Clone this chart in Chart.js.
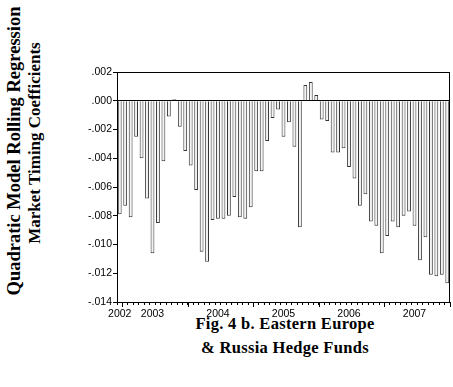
<!DOCTYPE html>
<html>
<head>
<meta charset="utf-8">
<script src="https://cdn.jsdelivr.net/npm/chart.js@4"></script>
<style>
  body { margin: 0; background: #fff; width: 453px; height: 387px; overflow: hidden; position: relative; }
  .ytitle {
    position: absolute; width: 320px; text-align: center; white-space: nowrap;
    font-family: "Liberation Serif", serif; font-weight: bold; color: #000; line-height: 20px;
    transform: rotate(-90deg);
  }
  #cap {
    position: absolute; left: 160px; width: 250px; top: 312px; text-align: center;
    font: bold 16.5px "Liberation Serif", serif; letter-spacing: 0.3px; line-height: 24px; color: #000;
  }
  #wrap { position: absolute; left: 60px; top: 60px; }
</style>
</head>
<body>
<div class="ytitle" style="left:-146px; top:141px; font-size:18.5px;">Quadratic Model Rolling Regression</div>
<div class="ytitle" style="left:-125px; top:133px; font-size:17px;">Market Timing Coefficients</div>
<div id="cap">Fig. 4 b. Eastern Europe<br>&amp; Russia Hedge Funds</div>
<div id="wrap"><canvas id="c" width="393" height="262"></canvas></div>
<script>
// monthly observations, Dec 2002 .. Dec 2007
const months = [];
for (let y = 2002, m = 12; months.length < 61; m++) {
  if (m > 12) { m = 1; y++; }
  months.push(y + '-' + String(m).padStart(2, '0'));
}

const coefs = [
  -0.0079, -0.0073, -0.0081, -0.0025, -0.0040, -0.0068, -0.0106, -0.0085, -0.0042, -0.0011,
   0.0001, -0.0018, -0.0035, -0.0045, -0.0062, -0.0105, -0.0112, -0.0083, -0.0082, -0.0082,
  -0.0080, -0.0067, -0.0081, -0.0082, -0.0074, -0.0049, -0.0049, -0.0028, -0.0012, -0.0006,
  -0.0025, -0.0015, -0.0032, -0.0088,  0.0011,  0.0013,  0.0004, -0.0013, -0.0014, -0.0036,
  -0.0036, -0.0033, -0.0046, -0.0054, -0.0073, -0.0065, -0.0084, -0.0087, -0.0106, -0.0094,
  -0.0084, -0.0088, -0.0080, -0.0077, -0.0087, -0.0111, -0.0095, -0.0121, -0.0122, -0.0121,
  -0.0127
];

const yearLabels = ['2002', '2003', '2004', '2005', '2006', '2007'];
const yearLabelIdx = [0, 6, 18, 30, 42, 54];
const yearStartIdx = [1, 13, 25, 37, 49, 61];

function fmt(v) {
  const r = Math.round(v * 1000) / 1000;
  if (Math.abs(r) < 1e-9) return '.000';
  return (r < 0 ? '-' : '') + Math.abs(r).toFixed(3).replace(/^0/, '');
}

// frame on top/right plus longer year ticks
const frame = {
  id: 'frame',
  afterDraw(chart) {
    const { ctx, chartArea: a, scales: { x } } = chart;
    const half = (x.getPixelForValue(1) - x.getPixelForValue(0)) / 2;
    ctx.save();
    ctx.strokeStyle = '#000';
    ctx.lineWidth = 1;
    ctx.beginPath();
    ctx.moveTo(a.left, Math.round(a.top) + 0.5);
    ctx.lineTo(a.right, Math.round(a.top) + 0.5);
    ctx.moveTo(Math.round(a.right) - 0.5, a.top);
    ctx.lineTo(Math.round(a.right) - 0.5, a.bottom);
    yearStartIdx.forEach(i => {
      const px = Math.round(x.getPixelForValue(i) - half) + 0.5;
      ctx.moveTo(px, a.bottom);
      ctx.lineTo(px, a.bottom + 5);
    });
    ctx.stroke();
    ctx.restore();
  }
};

const tickFont = { family: '"Liberation Sans", Arial, sans-serif', size: 10.5 };

new Chart(document.getElementById('c'), {
  type: 'bar',
  data: {
    labels: months,
    datasets: [{
      data: coefs,
      backgroundColor: '#f2f2f2',
      borderColor: '#333333',
      borderWidth: 1,
      barPercentage: 0.7,
      categoryPercentage: 1
    }]
  },
  options: {
    responsive: false,
    animation: false,
    layout: { padding: { top: 12, right: 3, left: 0, bottom: 0 } },
    plugins: { legend: { display: false }, tooltip: { enabled: false } },
    scales: {
      x: {
        offset: true,
        grid: { offset: true, drawOnChartArea: false, tickLength: 3, color: '#000' },
        border: { color: '#000' },
        ticks: {
          autoSkip: false, maxRotation: 0, padding: 3, color: '#000', font: tickFont,
          callback: (v, i) => {
            const k = yearLabelIdx.indexOf(i);
            return k >= 0 ? yearLabels[k] : '';
          }
        },
        afterFit: s => { s.height = 20; }
      },
      y: {
        min: -0.014,
        max: 0.002,
        grid: {
          color: c => (c.tick && Math.abs(c.tick.value) < 1e-9) ? '#000' : 'rgba(0,0,0,0)',
          tickColor: '#000',
          tickLength: 4
        },
        border: { color: '#000' },
        ticks: { stepSize: 0.002, padding: 1, color: '#000', font: tickFont, callback: v => fmt(v) },
        afterFit: s => { s.width = 57; }
      }
    }
  },
  plugins: [frame]
});
</script>
</body>
</html>
